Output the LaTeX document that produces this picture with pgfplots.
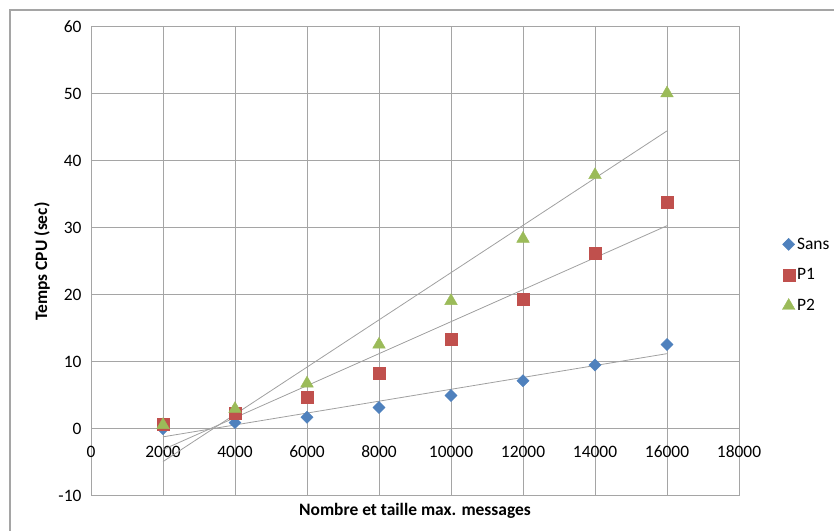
\documentclass[border=0pt]{standalone}
\usepackage{pgfplots}
\pgfplotsset{compat=1.18}
\usepackage{pgfplotstable}
\usepackage{fontspec}
\setmainfont{Carlito}
\definecolor{cSans}{RGB}{79,129,189}
\definecolor{cP1}{RGB}{192,80,77}
\definecolor{cP2}{RGB}{155,187,89}
\definecolor{cGrid}{RGB}{165,165,165}
\definecolor{cTrend}{RGB}{160,160,160}
\pgfplotstableread{
x sans p1 p2
2000 0.05 0.65 0.6
4000 0.95 2.3 3.0
6000 1.75 4.8 6.8
8000 3.2 8.4 12.6
10000 5.0 13.4 19.1
12000 7.2 19.4 28.4
14000 9.55 26.2 37.9
16000 12.6 33.9 50.1
}\datatable
\begin{document}
\begin{tikzpicture}[x=1bp,y=1bp]
\useasboundingbox (0,0) rectangle (834,531);
\begin{scope}
\clip (0,0) rectangle (834,531);
\draw[cGrid, line width=1.2bp] (10,-20) rectangle (860,521);
\end{scope}
\begin{axis}[
  at={(91bp,35bp)}, anchor=south west,
  scale only axis, width=648bp, height=469bp,
  xmin=0, xmax=18000, ymin=-10, ymax=60,
  xtick={0,2000,...,18000}, ytick={-10,0,...,60},
  scaled ticks=false,
  /pgf/number format/1000 sep={},
  /pgf/number format/assume math mode=true,
  tick style={draw=none},
  grid=major,
  major grid style={cGrid, line width=1bp},
  axis line style={cGrid, line width=1bp},
  font=\fontsize{17.5}{20}\selectfont,
  xticklabel style={anchor=center, yshift=44bp},
  yticklabel style={xshift=-6bp},
  xlabel={\textbf{Nombre et taille max. messages}},
  ylabel={\textbf{Temps CPU (sec)}},
  xlabel style={at={(axis description cs:0.5,0)}, anchor=center, yshift=-15bp},
  ylabel style={at={(axis description cs:0,0.5)}, anchor=center, yshift=49bp},
  legend style={draw=none, at={(1.062,0.471)}, anchor=west, row sep=14bp, font=\fontsize{17.5}{20}\selectfont, fill=none},
  legend cell align=left,
  clip=false,
]
\addplot[only marks, mark=square*, mark size=4.3bp, mark options={rotate=45, fill=cSans, draw=cSans}] table[x=x,y=sans] {\datatable};
\addlegendentry{Sans}
\addplot[only marks, mark=square*, mark size=6bp, mark options={fill=cP1, draw=cP1}] table[x=x,y=p1] {\datatable};
\addlegendentry{P1}
\addplot[only marks, mark=triangle*, mark size=7.3bp, mark options={fill=cP2, draw=cP2}] table[x=x,y=p2] {\datatable};
\addlegendentry{P2}
\addplot[cTrend, line width=0.8bp, no marks, forget plot] table[x=x, y={create col/linear regression={y=sans}}] {\datatable};
\addplot[cTrend, line width=0.8bp, no marks, forget plot] table[x=x, y={create col/linear regression={y=p1}}] {\datatable};
\addplot[cTrend, line width=0.8bp, no marks, forget plot] table[x=x, y={create col/linear regression={y=p2}}] {\datatable};
\end{axis}
\end{tikzpicture}
\end{document}
